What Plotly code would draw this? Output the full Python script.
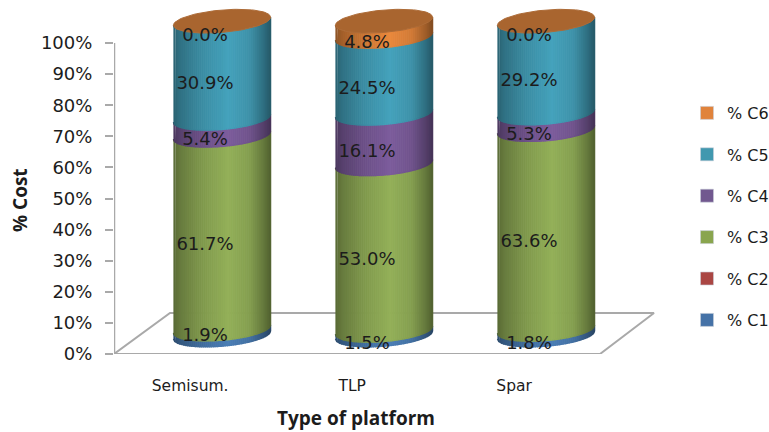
import numpy as np
import plotly.graph_objects as go

# Cost shares per platform type, in percent
platforms = ["Semisum.", "TLP", "Spar"]
c1 = [1.9, 1.5, 1.8]
c2 = [0.0, 0.0, 0.0]
c3 = [61.7, 53.0, 63.6]
c4 = [5.4, 16.1, 5.3]
c5 = [30.9, 24.5, 29.2]
c6 = [0.0, 4.8, 0.0]

series_names = ["% C1", "% C2", "% C3", "% C4", "% C5", "% C6"]
series_values = [c1, c2, c3, c4, c5, c6]
series_colors = ["#4a7db5", "#aa4643", "#93b058", "#7c5c9c", "#44a2bc", "#e9883c"]
swatch_colors = ["#4572a7", "#aa4643", "#89a54e", "#71588f", "#4198af", "#e0833c"]
label_series = [True, False, True, True, True, True]

# Plot frame (pixels) and the 3D look of the cylinders, in axis units
WIDTH, HEIGHT = 769, 432
LEFT, RIGHT, TOP, ZERO = 114, 660, 5, 354
UNIT_X = 162.0
UNIT_Y = 3.11
X_RANGE = [0.5, 0.5 + (RIGHT - LEFT) / UNIT_X]
Y_RANGE = [0, (ZERO - TOP) / UNIT_Y]
CYL_DX = 27 / UNIT_X
CYL_A = 48.6 / UNIT_X
CYL_B = 11.2 / UNIT_Y
CYL_TILT = 4.0 / UNIT_Y
CYL_BASE = 19 / UNIT_Y
CYL_STRETCH = 1.01
LABEL_DX = 10 / UNIT_X
LABEL_DY = 2.2
LABEL_NUDGE = {(0, 0): 2.4}
TICK_SHIFT = 0.03
AXIS_GREY = "#a9a9a9"
TEXT = "#1c1c1c"
FONT = "DejaVu Sans"
TITLE_FONT = "Open Sans"
N_STRIPS = 49


def shade(hex_color, factor):
    rgb = [int(hex_color[i:i + 2], 16) for i in (1, 3, 5)]
    return "rgb({},{},{})".format(*[int(round(c * factor)) for c in rgb])


def shade_at(u):
    return float(np.interp(u, [0, 0.07, 0.3, 0.56, 0.78, 0.93, 1],
                           [0.60, 0.70, 0.87, 1.0, 0.9, 0.68, 0.55]))


def front(t, level):
    """Height of the near rim of the ring at `level` for normalised position t."""
    return CYL_BASE + level * CYL_STRETCH + CYL_TILT * t - CYL_B * np.sqrt(np.clip(1 - t ** 2, 0, 1))


fig = go.Figure()

# Floor of the chart and the value axis
floor_dx = 56 / UNIT_X
floor_dy = 41 / UNIT_Y
front_end = 0.5 + 486 / UNIT_X
fig.add_trace(go.Scatter(
    x=[0.5, front_end, front_end + 54 / UNIT_X, 0.5 + floor_dx, 0.5],
    y=[0, 0, floor_dy, floor_dy, 0],
    mode="lines", line=dict(color=AXIS_GREY, width=2),
    showlegend=False, hoverinfo="skip", cliponaxis=False))
fig.add_trace(go.Scatter(
    x=[0.5, 0.5], y=[0, 100], mode="lines", line=dict(color=AXIS_GREY, width=2.5),
    showlegend=False, hoverinfo="skip", cliponaxis=False))

# Cylinder sides: every stacked segment is built from narrow shaded strips
edges = np.linspace(-1, 1, N_STRIPS + 1)
stacks = np.cumsum(np.array([np.zeros(3)] + series_values, dtype=float), axis=0)
for s, color in enumerate(series_colors):
    for k in range(N_STRIPS):
        t0, t1 = edges[k], edges[k + 1]
        ts = np.linspace(t0, t1, 4)
        xs, ys = [], []
        for p in range(len(platforms)):
            low, high = stacks[s][p], stacks[s + 1][p]
            if high - low <= 0:
                continue
            cx = p + 1 + CYL_DX
            xs += list(cx + CYL_A * ts) + list(cx + CYL_A * ts[::-1]) + [None]
            ys += list(front(ts, low)) + list(front(ts[::-1], high)) + [None]
        if not xs:
            continue
        tone = shade(color, shade_at((0.5 * (t0 + t1) + 1) / 2))
        fig.add_trace(go.Scatter(
            x=xs, y=ys, mode="lines", fill="toself", fillcolor=tone,
            line=dict(color=tone, width=1.3),
            showlegend=False, hoverinfo="skip", cliponaxis=False))

# Cylinder lids
theta = np.linspace(0, 2 * np.pi, 90)
lid_x, lid_y = [], []
for p in range(len(platforms)):
    cx = p + 1 + CYL_DX
    level = stacks[-1][p]
    lid_x += list(cx + CYL_A * np.cos(theta)) + [None]
    lid_y += list(CYL_BASE + level * CYL_STRETCH + CYL_TILT * np.cos(theta) + CYL_B * np.sin(theta)) + [None]
fig.add_trace(go.Scatter(
    x=lid_x, y=lid_y, mode="lines", fill="toself", fillcolor="#a9652f",
    line=dict(color="#ad6b37", width=1),
    showlegend=False, hoverinfo="skip", cliponaxis=False))

# Value labels
for s, values in enumerate(series_values):
    if not label_series[s]:
        continue
    xs = [p + 1 + LABEL_DX for p in range(len(platforms))]
    ys = [(stacks[s][p] + stacks[s + 1][p]) / 2 + LABEL_DY + LABEL_NUDGE.get((s, p), 0)
          for p in range(len(platforms))]
    fig.add_trace(go.Scatter(
        x=xs, y=ys, mode="text", text=[f"{v:.1f}%" for v in values],
        textposition="middle center", textfont=dict(family=FONT, size=18, color=TEXT),
        showlegend=False, hoverinfo="skip", cliponaxis=False))

# Legend keys, top to bottom from C6 to C1
for s in reversed(range(len(series_names))):
    fig.add_trace(go.Scatter(
        x=[None], y=[None], mode="markers", name=series_names[s], legendgroup=series_names[s],
        marker=dict(symbol="square", size=13, color=swatch_colors[s],
                    line=dict(color="#c9cfd8", width=0.6))))

fig.update_layout(
    width=WIDTH, height=HEIGHT,
    autosize=False,
    margin=dict(l=LEFT, r=WIDTH - RIGHT, t=TOP, b=HEIGHT - ZERO, pad=0, autoexpand=False),
    paper_bgcolor="white", plot_bgcolor="white",
    font=dict(family=FONT, size=16, color=TEXT),
    legend=dict(
        x=(687 - LEFT) / (RIGHT - LEFT), xanchor="left",
        y=(ZERO - 96) / (ZERO - TOP), yanchor="top",
        tracegroupgap=17.6, font=dict(family=FONT, size=16, color=TEXT),
        bgcolor="rgba(0,0,0,0)", itemclick=False, itemdoubleclick=False),
    xaxis=dict(
        range=X_RANGE, tickmode="array",
        tickvals=[1 - TICK_SHIFT, 2 - TICK_SHIFT, 3 - TICK_SHIFT], ticktext=platforms,
        showgrid=False, zeroline=False, showline=False, ticks="",
        ticklabelstandoff=20, tickfont=dict(family=FONT, size=15.5, color=TEXT)),
    yaxis=dict(
        range=Y_RANGE, tickmode="array", tickvals=list(range(0, 101, 10)),
        ticktext=[f"{v}%" for v in range(0, 101, 10)],
        showgrid=False, zeroline=False, showline=False,
        ticks="outside", ticklen=8, tickwidth=2, tickcolor=AXIS_GREY,
        ticklabelstandoff=9, tickfont=dict(family=FONT, size=18, color=TEXT)),
    annotations=[
        dict(text="<b>Type of platform</b>", xref="paper", yref="paper",
             x=(356 - LEFT) / (RIGHT - LEFT), y=(ZERO - 418) / (ZERO - TOP),
             xanchor="center", yanchor="middle",
             showarrow=False, font=dict(family=TITLE_FONT, size=19, color=TEXT)),
        dict(text="<b>% Cost</b>", xref="paper", yref="paper", textangle=-90,
             x=(20 - LEFT) / (RIGHT - LEFT), y=(ZERO - 200) / (ZERO - TOP),
             xanchor="center", yanchor="middle",
             showarrow=False, font=dict(family=TITLE_FONT, size=19, color=TEXT)),
    ],
)

fig.write_html("out.html", config=dict(displayModeBar=False))
